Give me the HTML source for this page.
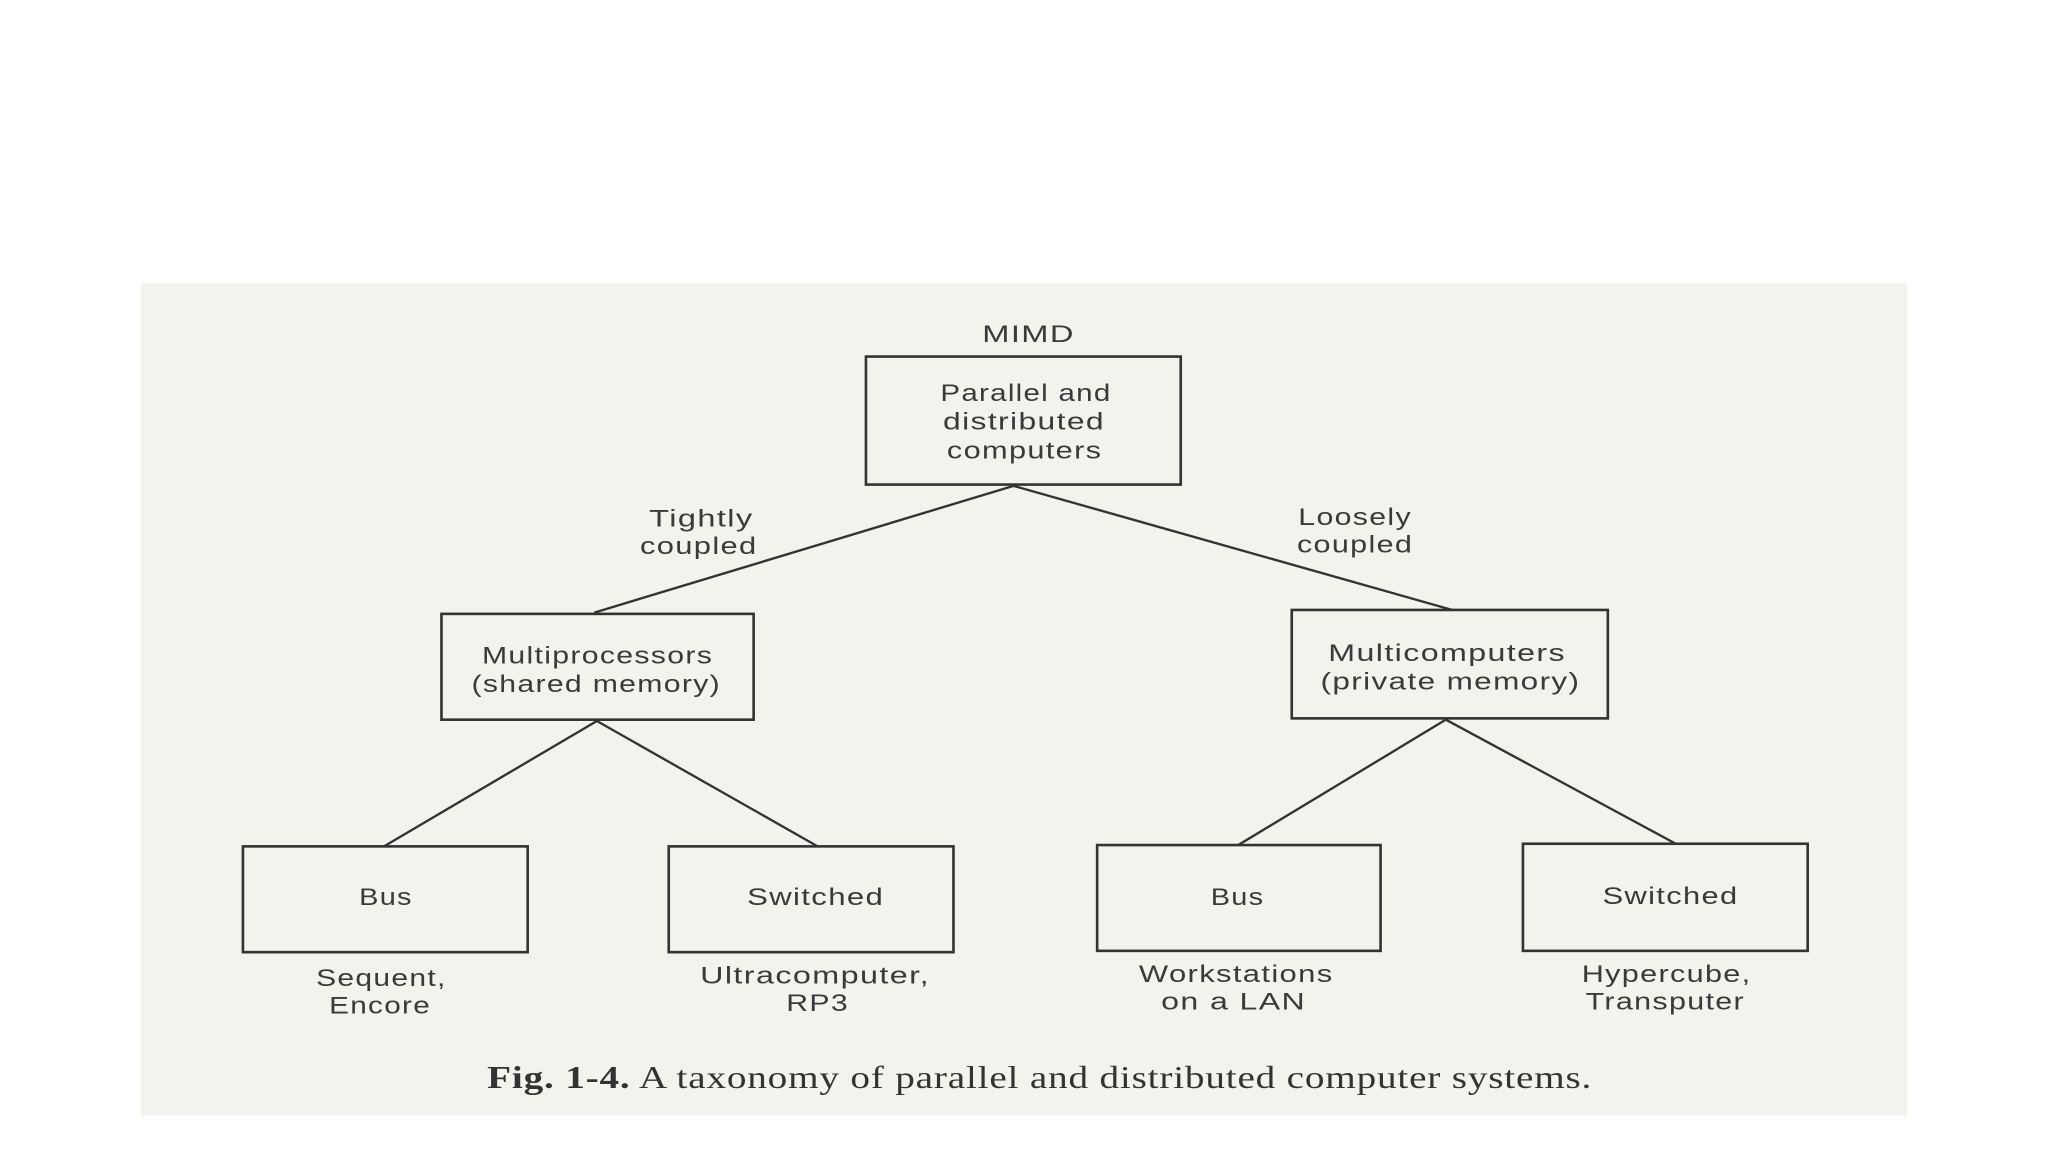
<!DOCTYPE html>
<html><head><style>
html,body{margin:0;padding:0;background:#fff;}
svg{display:block;}
text{font-family:"Liberation Sans",sans-serif;fill:#3a3a3a;font-size:18.5px;letter-spacing:0.8px;}
.cap{font-family:"Liberation Serif",serif;font-size:24px;fill:#333;letter-spacing:0.5px;}
rect.b{fill:none;stroke:#333;stroke-width:2;}
line{stroke:#333;stroke-width:1.8;}
</style></head><body>
<svg width="2048" height="1152" viewBox="0 0 1568 882" preserveAspectRatio="none">
<rect x="0" y="0" width="1568" height="882" fill="#fff"/>
<rect x="108" y="217" width="1352" height="637" fill="#f4f2ed"/>
<text x="752" y="262" textLength="71" lengthAdjust="spacingAndGlyphs">MIMD</text>
<rect class="b" x="663" y="273" width="241" height="98"/>
<text x="720" y="307" textLength="131" lengthAdjust="spacingAndGlyphs">Parallel and</text>
<text x="722" y="329" textLength="124" lengthAdjust="spacingAndGlyphs">distributed</text>
<text x="725" y="351" textLength="119" lengthAdjust="spacingAndGlyphs">computers</text>
<text x="497" y="403" textLength="80" lengthAdjust="spacingAndGlyphs">Tightly</text>
<text x="490" y="424" textLength="90" lengthAdjust="spacingAndGlyphs">coupled</text>
<text x="994" y="402" textLength="87" lengthAdjust="spacingAndGlyphs">Loosely</text>
<text x="993" y="423" textLength="89" lengthAdjust="spacingAndGlyphs">coupled</text>
<line x1="776" y1="372" x2="455" y2="469"/>
<line x1="776" y1="372" x2="1112" y2="467"/>
<rect class="b" x="338" y="470" width="239" height="81"/>
<text x="369" y="508" textLength="177" lengthAdjust="spacingAndGlyphs">Multiprocessors</text>
<text x="361" y="530" textLength="191" lengthAdjust="spacingAndGlyphs">(shared memory)</text>
<rect class="b" x="989" y="467" width="242" height="83"/>
<text x="1017" y="506" textLength="182" lengthAdjust="spacingAndGlyphs">Multicomputers</text>
<text x="1011" y="528" textLength="199" lengthAdjust="spacingAndGlyphs">(private memory)</text>
<line x1="457" y1="552" x2="294" y2="648"/>
<line x1="457" y1="552" x2="626" y2="648"/>
<line x1="1107" y1="551" x2="948" y2="647"/>
<line x1="1107" y1="551" x2="1283" y2="646"/>
<rect class="b" x="186" y="648" width="218" height="81"/>
<text x="275" y="693" textLength="41" lengthAdjust="spacingAndGlyphs">Bus</text>
<rect class="b" x="512" y="648" width="218" height="81"/>
<text x="572" y="693" textLength="105" lengthAdjust="spacingAndGlyphs">Switched</text>
<rect class="b" x="840" y="647" width="217" height="81"/>
<text x="927" y="693" textLength="41" lengthAdjust="spacingAndGlyphs">Bus</text>
<rect class="b" x="1166" y="646" width="218" height="82"/>
<text x="1227" y="692" textLength="104" lengthAdjust="spacingAndGlyphs">Switched</text>
<text x="242" y="755" textLength="100" lengthAdjust="spacingAndGlyphs">Sequent,</text>
<text x="252" y="776" textLength="78" lengthAdjust="spacingAndGlyphs">Encore</text>
<text x="536" y="753" textLength="176" lengthAdjust="spacingAndGlyphs">Ultracomputer,</text>
<text x="602" y="774" textLength="48" lengthAdjust="spacingAndGlyphs">RP3</text>
<text x="872" y="752" textLength="149" lengthAdjust="spacingAndGlyphs">Workstations</text>
<text x="889" y="773" textLength="111" lengthAdjust="spacingAndGlyphs">on a LAN</text>
<text x="1211" y="752" textLength="130" lengthAdjust="spacingAndGlyphs">Hypercube,</text>
<text x="1214" y="773" textLength="122" lengthAdjust="spacingAndGlyphs">Transputer</text>
<text class="cap" x="373" y="833" textLength="846" lengthAdjust="spacingAndGlyphs"><tspan font-weight="bold">Fig.  1-4.</tspan> A taxonomy of parallel and distributed computer systems.</text>
</svg>
</body></html>
